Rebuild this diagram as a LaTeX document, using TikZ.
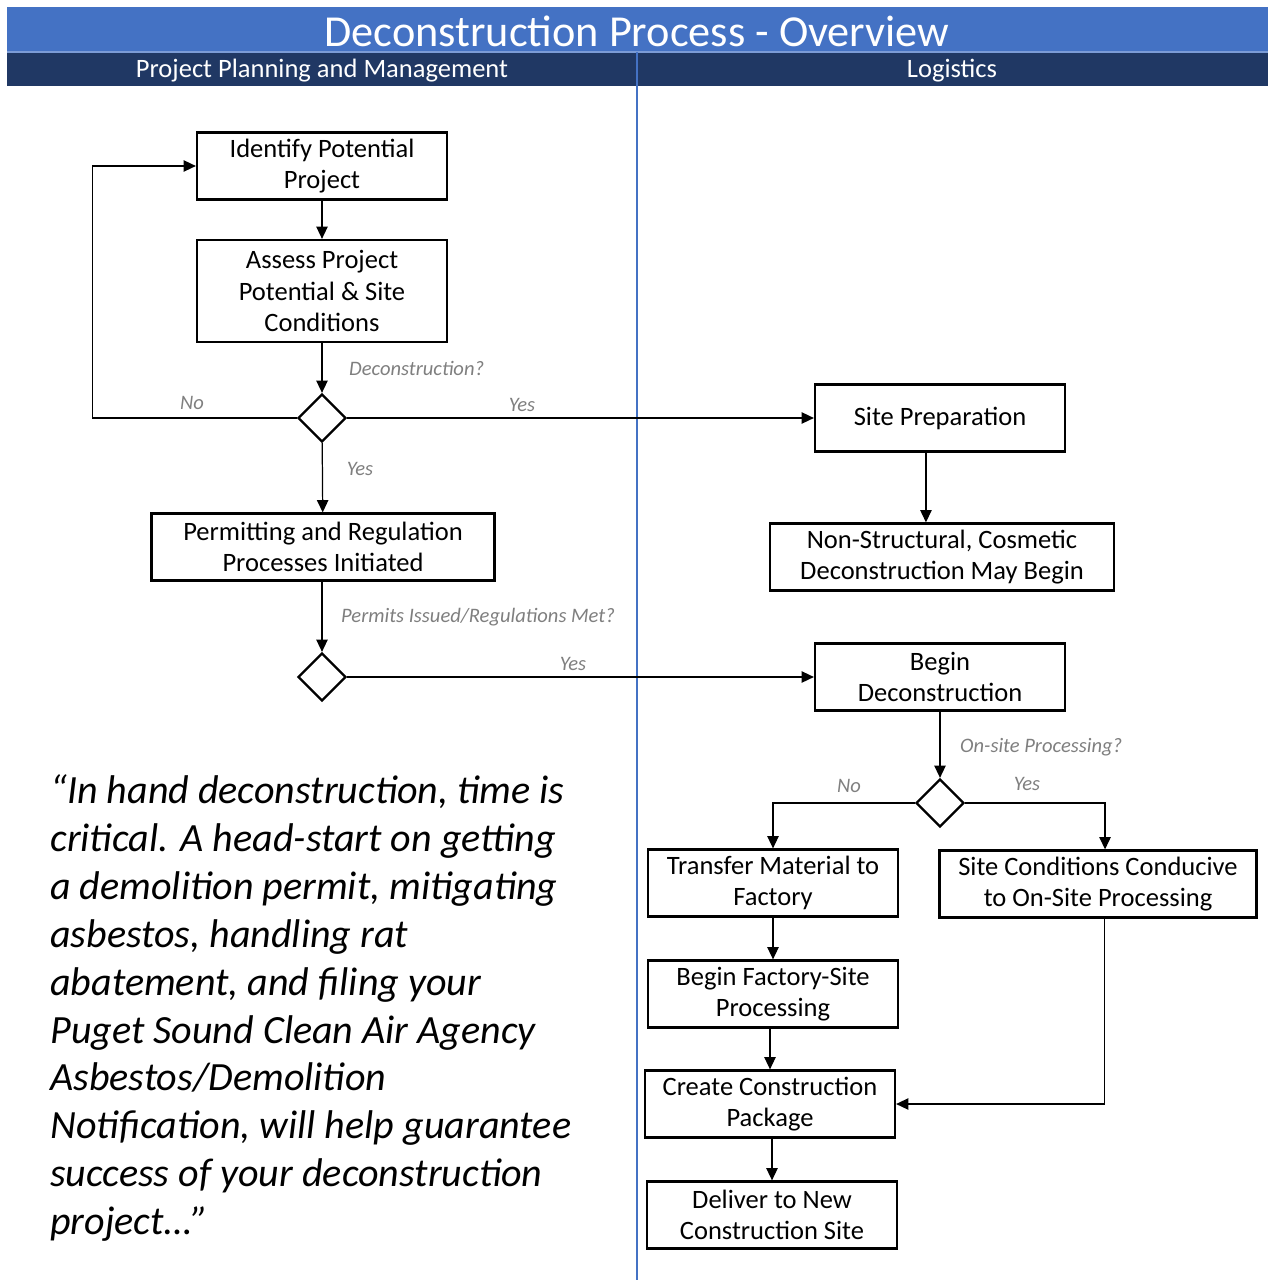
\documentclass[tikz,border=0pt]{standalone}
\usepackage{fontspec}
\setmainfont{Carlito}
\usetikzlibrary{arrows.meta, positioning, shapes.geometric}
\definecolor{hdrblue}{RGB}{68,114,196}
\definecolor{hdrnavy}{RGB}{32,56,100}
\definecolor{lblgray}{RGB}{127,127,127}

\begin{document}
\begin{tikzpicture}[x=0.02cm, y=-0.02cm,
  procbox/.style={draw, line width=1.3pt, align=center, minimum width=5cm,
                  minimum height=1.34cm, inner sep=2pt,
                  font=\fontsize{15.1}{18}\selectfont},
  decision/.style={draw, diamond, line width=1.3pt, minimum size=0.96cm, inner sep=0pt},
  flow/.style={line width=0.7pt, -{Triangle[length=7pt,width=6.5pt]}},
  branch/.style={text=lblgray, font=\fontsize{11.7}{14}\selectfont\itshape}]
  \useasboundingbox (0,0) rectangle (1268,1280);

  % Header bands
  \fill[hdrblue] (7,7) rectangle (1268,52);
  \fill[hdrnavy] (7,52) rectangle (1268,86);
  \draw[hdrblue!70, line width=0.8pt] (7,52) -- (1268,52);

  % Lane separator
  \draw[hdrblue, line width=0.6pt] (637,52) -- (637,1280);

  \node[text=white, font=\fontsize{25.2}{29}\selectfont] (title) at (637,31)
    {Deconstruction Process - Overview};
  \node[text=white, font=\fontsize{15.1}{18}\selectfont] (planhdr) at (322,71)
    {Project Planning and Management};
  \node[text=white, font=\fontsize{15.1}{18}\selectfont] (loghdr) at (952,71)
    {Logistics};

  % Planning lane
  \node[procbox] (ident) at (322,166) {Identify Potential\\Project};
  \node[procbox, minimum height=2.04cm] (assess) at (322,291)
    {Assess Project\\Potential \& Site\\Conditions};
  \node[decision] (deca) at (322,418) {};
  \node[procbox, minimum width=6.86cm] (permit) at (323,547)
    {Permitting and Regulation\\Processes Initiated};
  \node[decision] (decb) at (322,677) {};

  % Logistics lane
  \node[procbox] (siteprep) at (940,418) {Site Preparation};
  \node[procbox, minimum width=6.88cm] (cosmetic) at (942,557)
    {Non-Structural, Cosmetic\\Deconstruction May Begin};
  \node[procbox] (begindec) at (940,677) {Begin\\Deconstruction};
  \node[decision] (decc) at (940,803) {};
  \node[procbox] (transfer) at (773,883) {Transfer Material to\\Factory};
  \node[procbox, minimum width=6.34cm] (onsite) at (1098,884)
    {Site Conditions Conducive\\to On-Site Processing};
  \node[procbox] (factory) at (773,994) {Begin Factory-Site\\Processing};
  \node[procbox] (package) at (770,1104) {Create Construction\\Package};
  \node[procbox] (deliver) at (772,1215) {Deliver to New\\Construction Site};

  % Connectors
  \draw[flow] (ident) -- (assess);
  \draw[flow] (assess) -- (deca);
  \draw[flow] (deca.west) -- ++(-204,0) |- (ident.west);
  \draw[flow] (deca.east) -- (siteprep.west);
  \draw[flow] (deca) -- (permit);
  \draw[flow] (permit.south -| decb) -- (decb);
  \draw[flow] (decb.east) -- (begindec.west);
  \draw[flow] ([xshift=-8pt]siteprep.south) -- ([xshift=-8pt]siteprep.south |- cosmetic.north);
  \draw[flow] (begindec) -- (decc);
  \draw[flow] (decc.west) -| (transfer.north);
  \draw[flow] (decc.east) -| ([xshift=4pt]onsite.north);
  \draw[flow] (transfer) -- (factory);
  \draw[flow] (factory.south -| package) -- (package);
  \draw[flow] (package.south -| deliver) -- (deliver);
  \draw[flow] ([xshift=3.5pt]onsite.south) |- (package.east);

  % Branch labels
  \node[branch, anchor=west] (lbldec) at (343,368) {Deconstruction?};
  \node[branch] (lblnoa) at (192,403) {No};
  \node[branch] (lblyesa) at (522,405) {Yes};
  \node[branch] (lblyesb) at (360,469) {Yes};
  \node[branch, anchor=west] (lblpermit) at (335,617) {Permits Issued/Regulations Met?};
  \node[branch] (lblyesc) at (573,664) {Yes};
  \node[branch, anchor=west] (lblonsite) at (954,747) {On-site Processing?};
  \node[branch] (lblnob) at (849,786) {No};
  \node[branch] (lblyesd) at (1027,784) {Yes};

  % Quote
  \node[anchor=north west, align=left, inner sep=0pt,
        font=\fontsize{22.8}{27.3}\selectfont\itshape] (quote) at (50,774)
    {“In hand deconstruction, time is\\
     critical. A head-start on getting\\
     a demolition permit, mitigating\\
     asbestos, handling rat\\
     abatement, and filing your\\
     Puget Sound Clean Air Agency\\
     Asbestos/Demolition\\
     Notification, will help guarantee\\
     success of your deconstruction\\
     project…”};
\end{tikzpicture}
\end{document}
